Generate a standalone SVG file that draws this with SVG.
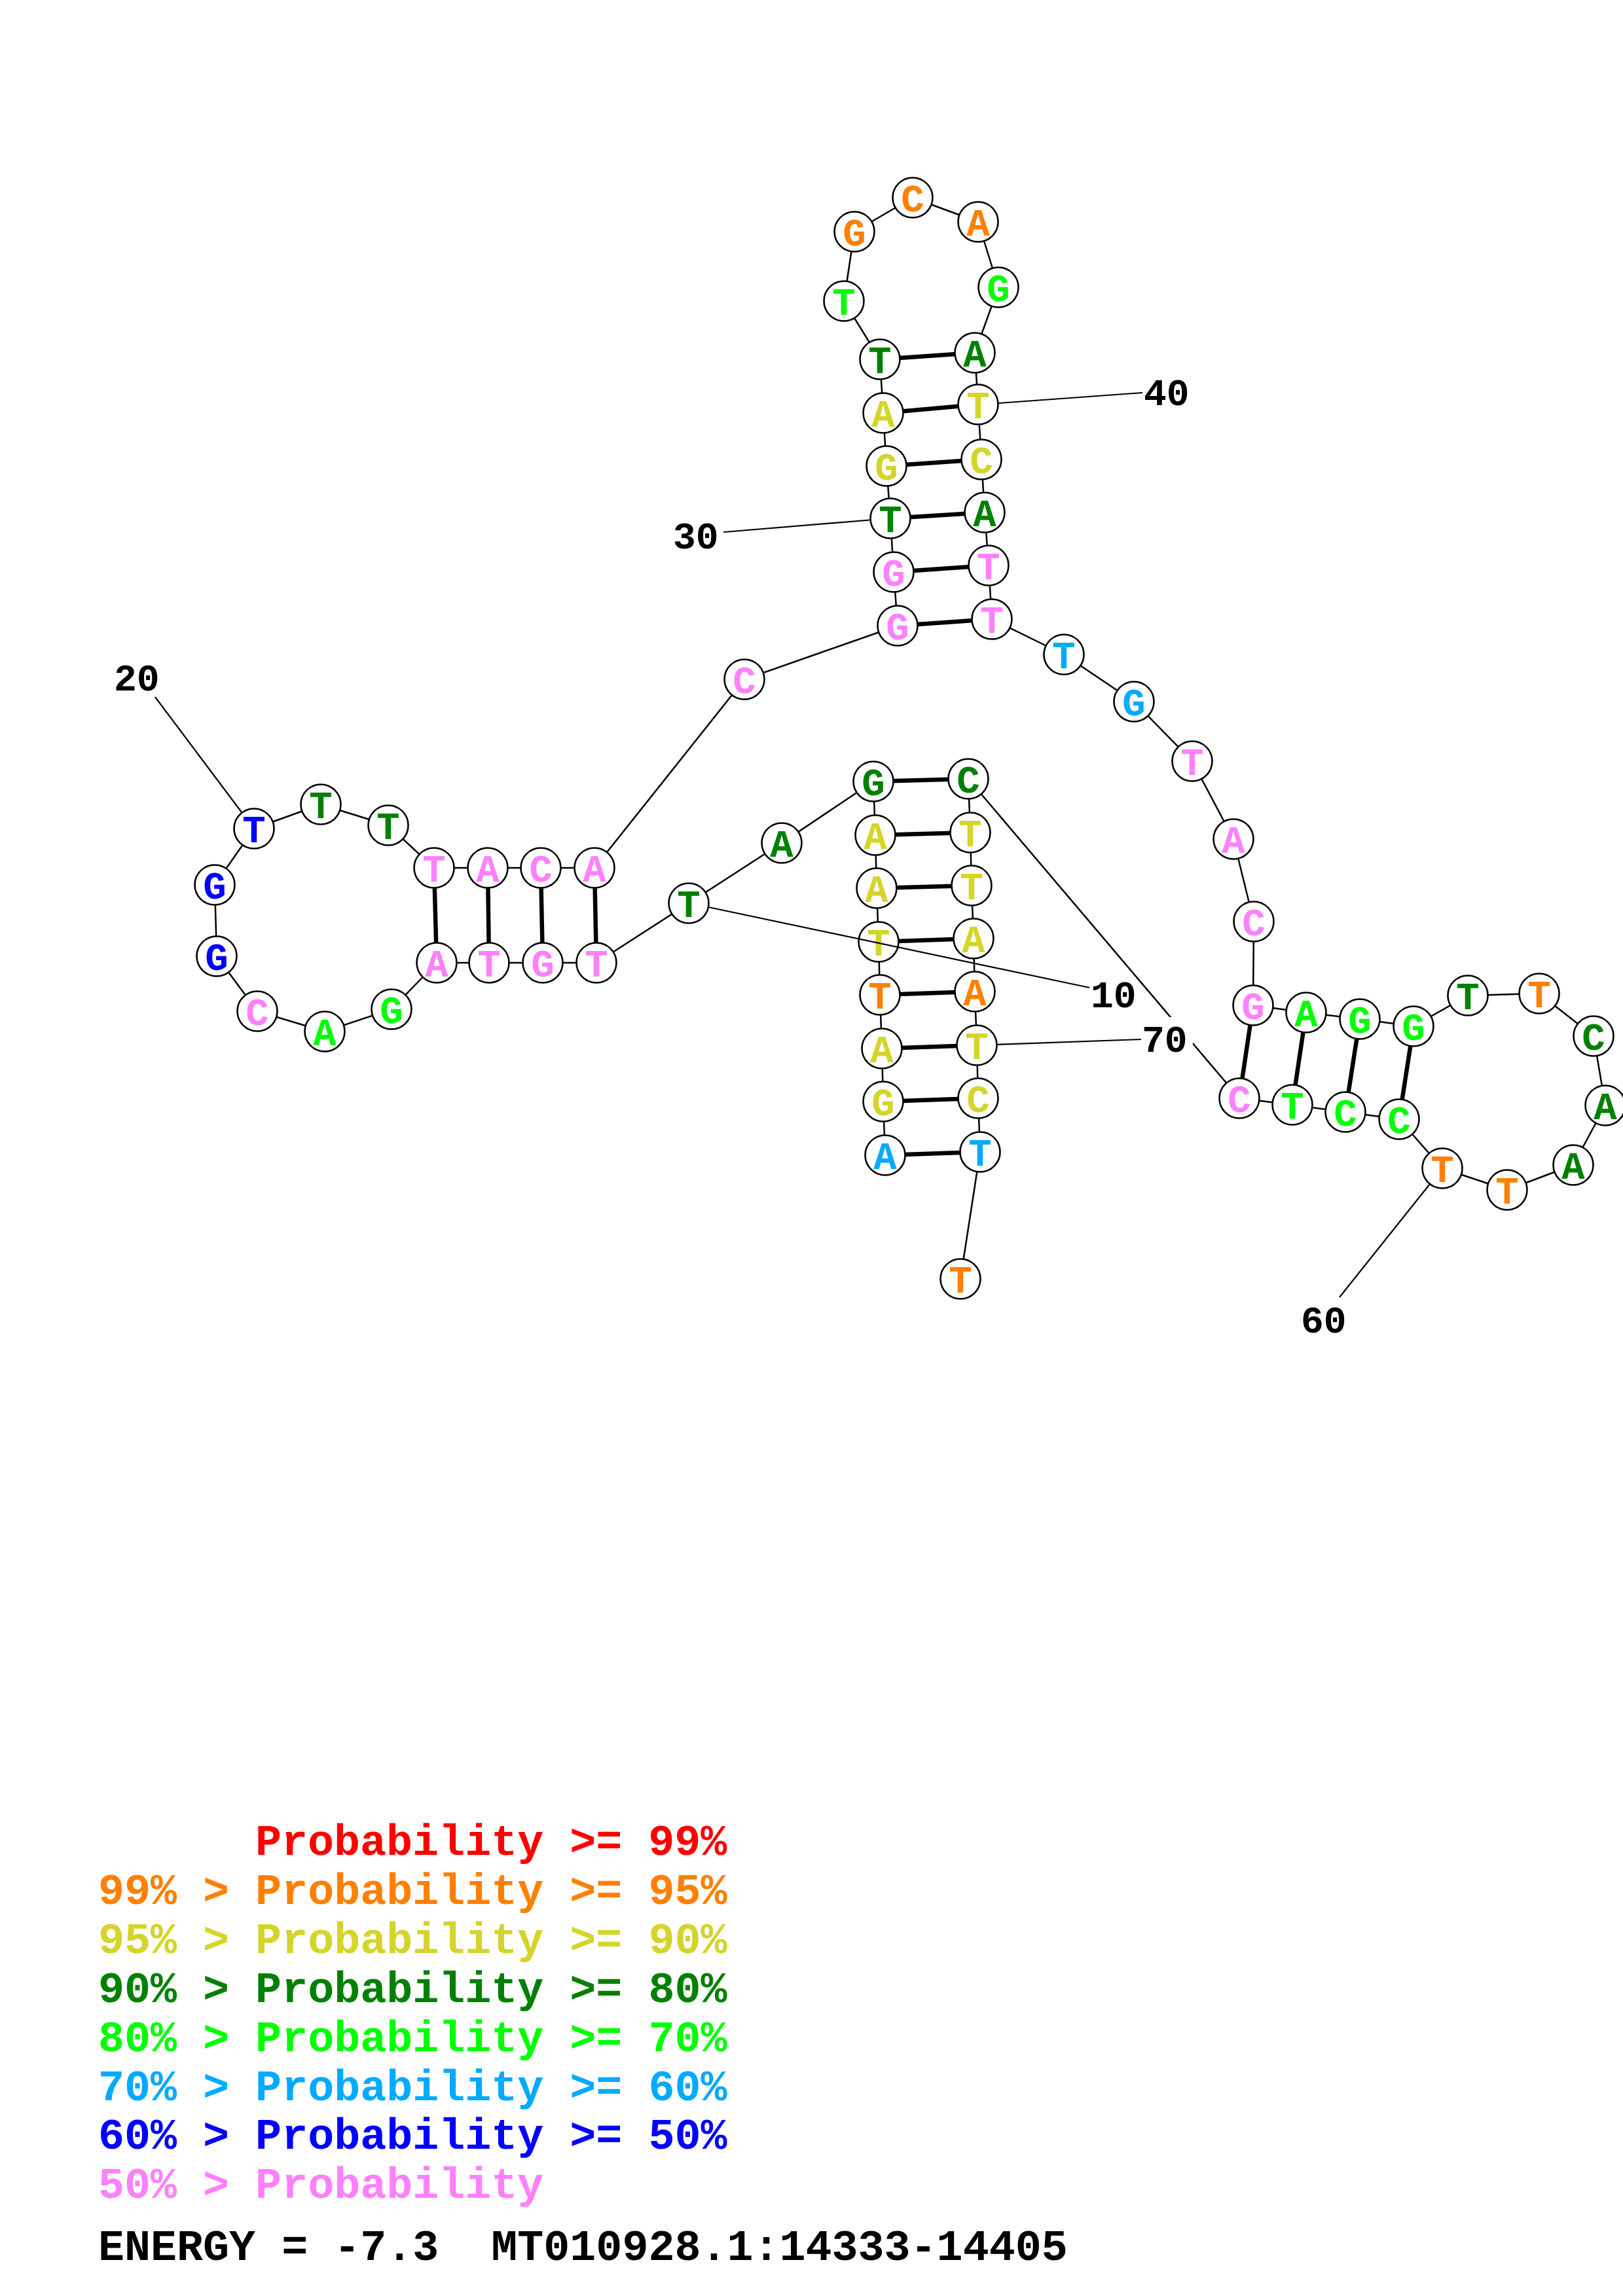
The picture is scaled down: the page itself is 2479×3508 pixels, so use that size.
<svg xmlns="http://www.w3.org/2000/svg" width="2479" height="3508" viewBox="0 0 2479 3508">
<style>
.bb{fill:none;stroke:#000;stroke-width:2.5;stroke-linejoin:round}
.bp{stroke:#000;stroke-width:6.5}
.tk{stroke:#000;stroke-width:2.2}
.nd circle{fill:#fff;stroke:#000;stroke-width:2.6}
.nd text{font-family:"Liberation Mono",monospace;font-weight:bold;font-size:59px;text-anchor:middle}
.lb{font-family:"Liberation Mono",monospace;font-weight:bold;font-size:58px;fill:#000}
.lg{font-family:"Liberation Mono",monospace;font-weight:bold;font-size:66.7px}
.rd{fill:#FF0000}.or{fill:#FF8000}.ye{fill:#D4D42A}.dg{fill:#008000}.gr{fill:#00FF00}.sb{fill:#00AAFF}.bl{fill:#0000FF}.pk{fill:#FF80FF}
</style>
<rect width="2479" height="3508" fill="#fff"/>
<g id="connectors">
<polyline class="bb" points="1352,1765 1349,1683 1347,1602 1344,1520 1342,1439 1339,1357 1337,1276 1334,1194 1194,1288 1052,1380 911,1471 829,1471 747,1471 667,1471 598,1542 496,1576 393,1545 331,1461 328,1352 388,1266 490,1229 593,1261 663,1326 745,1326 826,1326 908,1326 1137,1038 1371,956 1365,874 1360,792 1354,712 1349,631 1344,549 1289,460 1305,354 1394,302 1494,339 1525,439 1489,539 1494,618 1499,702 1504,783 1510,864 1515,946 1625,1000 1732,1072 1821,1163 1884,1282 1915,1408 1914,1536 1995,1547 2077,1557 2159,1568 2242,1521 2351,1518 2434,1583 2452,1689 2403,1780 2302,1818 2203,1785 2137,1710 2055,1699 1974,1688 1893,1678 1479,1190 1482,1272 1484,1353 1487,1434 1489,1515 1492,1597 1494,1678 1497,1760 1467,1954"/>
<line class="bp" x1="1352" y1="1765" x2="1497" y2="1760"/>
<line class="bp" x1="1349" y1="1683" x2="1494" y2="1678"/>
<line class="bp" x1="1347" y1="1602" x2="1492" y2="1597"/>
<line class="bp" x1="1344" y1="1520" x2="1489" y2="1515"/>
<line class="bp" x1="1342" y1="1439" x2="1487" y2="1434"/>
<line class="bp" x1="1339" y1="1357" x2="1484" y2="1353"/>
<line class="bp" x1="1337" y1="1276" x2="1482" y2="1272"/>
<line class="bp" x1="1334" y1="1194" x2="1479" y2="1190"/>
<line class="bp" x1="911" y1="1471" x2="908" y2="1326"/>
<line class="bp" x1="829" y1="1471" x2="826" y2="1326"/>
<line class="bp" x1="747" y1="1471" x2="745" y2="1326"/>
<line class="bp" x1="667" y1="1471" x2="663" y2="1326"/>
<line class="bp" x1="1371" y1="956" x2="1515" y2="946"/>
<line class="bp" x1="1365" y1="874" x2="1510" y2="864"/>
<line class="bp" x1="1360" y1="792" x2="1504" y2="783"/>
<line class="bp" x1="1354" y1="712" x2="1499" y2="702"/>
<line class="bp" x1="1349" y1="631" x2="1494" y2="618"/>
<line class="bp" x1="1344" y1="549" x2="1489" y2="539"/>
<line class="bp" x1="1914" y1="1536" x2="1893" y2="1678"/>
<line class="bp" x1="1995" y1="1547" x2="1974" y2="1688"/>
<line class="bp" x1="2077" y1="1557" x2="2055" y2="1699"/>
<line class="bp" x1="2159" y1="1568" x2="2137" y2="1710"/>
</g>
<g id="n1" class="nd"><circle cx="1352" cy="1765" r="30.5"/><text x="1352" y="1786" class="sb">A</text></g>
<g id="n2" class="nd"><circle cx="1349" cy="1683" r="30.5"/><text x="1349" y="1704" class="ye">G</text></g>
<g id="n3" class="nd"><circle cx="1347" cy="1602" r="30.5"/><text x="1347" y="1623" class="ye">A</text></g>
<g id="n4" class="nd"><circle cx="1344" cy="1520" r="30.5"/><text x="1344" y="1541" class="or">T</text></g>
<g id="n5" class="nd"><circle cx="1342" cy="1439" r="30.5"/><text x="1342" y="1460" class="ye">T</text></g>
<g id="n6" class="nd"><circle cx="1339" cy="1357" r="30.5"/><text x="1339" y="1378" class="ye">A</text></g>
<g id="n7" class="nd"><circle cx="1337" cy="1276" r="30.5"/><text x="1337" y="1297" class="ye">A</text></g>
<g id="n8" class="nd"><circle cx="1334" cy="1194" r="30.5"/><text x="1334" y="1215" class="dg">G</text></g>
<g id="n9" class="nd"><circle cx="1194" cy="1288" r="30.5"/><text x="1194" y="1309" class="dg">A</text></g>
<g id="n10" class="nd"><circle cx="1052" cy="1380" r="30.5"/><text x="1052" y="1401" class="dg">T</text></g>
<g id="n11" class="nd"><circle cx="911" cy="1471" r="30.5"/><text x="911" y="1492" class="pk">T</text></g>
<g id="n12" class="nd"><circle cx="829" cy="1471" r="30.5"/><text x="829" y="1492" class="pk">G</text></g>
<g id="n13" class="nd"><circle cx="747" cy="1471" r="30.5"/><text x="747" y="1492" class="pk">T</text></g>
<g id="n14" class="nd"><circle cx="667" cy="1471" r="30.5"/><text x="667" y="1492" class="pk">A</text></g>
<g id="n15" class="nd"><circle cx="598" cy="1542" r="30.5"/><text x="598" y="1563" class="gr">G</text></g>
<g id="n16" class="nd"><circle cx="496" cy="1576" r="30.5"/><text x="496" y="1597" class="gr">A</text></g>
<g id="n17" class="nd"><circle cx="393" cy="1545" r="30.5"/><text x="393" y="1566" class="pk">C</text></g>
<g id="n18" class="nd"><circle cx="331" cy="1461" r="30.5"/><text x="331" y="1482" class="bl">G</text></g>
<g id="n19" class="nd"><circle cx="328" cy="1352" r="30.5"/><text x="328" y="1373" class="bl">G</text></g>
<g id="n20" class="nd"><circle cx="388" cy="1266" r="30.5"/><text x="388" y="1287" class="bl">T</text></g>
<g id="n21" class="nd"><circle cx="490" cy="1229" r="30.5"/><text x="490" y="1250" class="dg">T</text></g>
<g id="n22" class="nd"><circle cx="593" cy="1261" r="30.5"/><text x="593" y="1282" class="dg">T</text></g>
<g id="n23" class="nd"><circle cx="663" cy="1326" r="30.5"/><text x="663" y="1347" class="pk">T</text></g>
<g id="n24" class="nd"><circle cx="745" cy="1326" r="30.5"/><text x="745" y="1347" class="pk">A</text></g>
<g id="n25" class="nd"><circle cx="826" cy="1326" r="30.5"/><text x="826" y="1347" class="pk">C</text></g>
<g id="n26" class="nd"><circle cx="908" cy="1326" r="30.5"/><text x="908" y="1347" class="pk">A</text></g>
<g id="n27" class="nd"><circle cx="1137" cy="1038" r="30.5"/><text x="1137" y="1059" class="pk">C</text></g>
<g id="n28" class="nd"><circle cx="1371" cy="956" r="30.5"/><text x="1371" y="977" class="pk">G</text></g>
<g id="n29" class="nd"><circle cx="1365" cy="874" r="30.5"/><text x="1365" y="895" class="pk">G</text></g>
<g id="n30" class="nd"><circle cx="1360" cy="792" r="30.5"/><text x="1360" y="813" class="dg">T</text></g>
<g id="n31" class="nd"><circle cx="1354" cy="712" r="30.5"/><text x="1354" y="733" class="ye">G</text></g>
<g id="n32" class="nd"><circle cx="1349" cy="631" r="30.5"/><text x="1349" y="652" class="ye">A</text></g>
<g id="n33" class="nd"><circle cx="1344" cy="549" r="30.5"/><text x="1344" y="570" class="dg">T</text></g>
<g id="n34" class="nd"><circle cx="1289" cy="460" r="30.5"/><text x="1289" y="481" class="gr">T</text></g>
<g id="n35" class="nd"><circle cx="1305" cy="354" r="30.5"/><text x="1305" y="375" class="or">G</text></g>
<g id="n36" class="nd"><circle cx="1394" cy="302" r="30.5"/><text x="1394" y="323" class="or">C</text></g>
<g id="n37" class="nd"><circle cx="1494" cy="339" r="30.5"/><text x="1494" y="360" class="or">A</text></g>
<g id="n38" class="nd"><circle cx="1525" cy="439" r="30.5"/><text x="1525" y="460" class="gr">G</text></g>
<g id="n39" class="nd"><circle cx="1489" cy="539" r="30.5"/><text x="1489" y="560" class="dg">A</text></g>
<g id="n40" class="nd"><circle cx="1494" cy="618" r="30.5"/><text x="1494" y="639" class="ye">T</text></g>
<g id="n41" class="nd"><circle cx="1499" cy="702" r="30.5"/><text x="1499" y="723" class="ye">C</text></g>
<g id="n42" class="nd"><circle cx="1504" cy="783" r="30.5"/><text x="1504" y="804" class="dg">A</text></g>
<g id="n43" class="nd"><circle cx="1510" cy="864" r="30.5"/><text x="1510" y="885" class="pk">T</text></g>
<g id="n44" class="nd"><circle cx="1515" cy="946" r="30.5"/><text x="1515" y="967" class="pk">T</text></g>
<g id="n45" class="nd"><circle cx="1625" cy="1000" r="30.5"/><text x="1625" y="1021" class="sb">T</text></g>
<g id="n46" class="nd"><circle cx="1732" cy="1072" r="30.5"/><text x="1732" y="1093" class="sb">G</text></g>
<g id="n47" class="nd"><circle cx="1821" cy="1163" r="30.5"/><text x="1821" y="1184" class="pk">T</text></g>
<g id="n48" class="nd"><circle cx="1884" cy="1282" r="30.5"/><text x="1884" y="1303" class="pk">A</text></g>
<g id="n49" class="nd"><circle cx="1915" cy="1408" r="30.5"/><text x="1915" y="1429" class="pk">C</text></g>
<g id="n50" class="nd"><circle cx="1914" cy="1536" r="30.5"/><text x="1914" y="1557" class="pk">G</text></g>
<g id="n51" class="nd"><circle cx="1995" cy="1547" r="30.5"/><text x="1995" y="1568" class="gr">A</text></g>
<g id="n52" class="nd"><circle cx="2077" cy="1557" r="30.5"/><text x="2077" y="1578" class="gr">G</text></g>
<g id="n53" class="nd"><circle cx="2159" cy="1568" r="30.5"/><text x="2159" y="1589" class="gr">G</text></g>
<g id="n54" class="nd"><circle cx="2242" cy="1521" r="30.5"/><text x="2242" y="1542" class="dg">T</text></g>
<g id="n55" class="nd"><circle cx="2351" cy="1518" r="30.5"/><text x="2351" y="1539" class="or">T</text></g>
<g id="n56" class="nd"><circle cx="2434" cy="1583" r="30.5"/><text x="2434" y="1604" class="dg">C</text></g>
<g id="n57" class="nd"><circle cx="2452" cy="1689" r="30.5"/><text x="2452" y="1710" class="dg">A</text></g>
<g id="n58" class="nd"><circle cx="2403" cy="1780" r="30.5"/><text x="2403" y="1801" class="dg">A</text></g>
<g id="n59" class="nd"><circle cx="2302" cy="1818" r="30.5"/><text x="2302" y="1839" class="or">T</text></g>
<g id="n60" class="nd"><circle cx="2203" cy="1785" r="30.5"/><text x="2203" y="1806" class="or">T</text></g>
<g id="n61" class="nd"><circle cx="2137" cy="1710" r="30.5"/><text x="2137" y="1731" class="gr">C</text></g>
<g id="n62" class="nd"><circle cx="2055" cy="1699" r="30.5"/><text x="2055" y="1720" class="gr">C</text></g>
<g id="n63" class="nd"><circle cx="1974" cy="1688" r="30.5"/><text x="1974" y="1709" class="gr">T</text></g>
<g id="n64" class="nd"><circle cx="1893" cy="1678" r="30.5"/><text x="1893" y="1699" class="pk">C</text></g>
<g id="n65" class="nd"><circle cx="1479" cy="1190" r="30.5"/><text x="1479" y="1211" class="dg">C</text></g>
<g id="n66" class="nd"><circle cx="1482" cy="1272" r="30.5"/><text x="1482" y="1293" class="ye">T</text></g>
<g id="n67" class="nd"><circle cx="1484" cy="1353" r="30.5"/><text x="1484" y="1374" class="ye">T</text></g>
<g id="n68" class="nd"><circle cx="1487" cy="1434" r="30.5"/><text x="1487" y="1455" class="ye">A</text></g>
<g id="n69" class="nd"><circle cx="1489" cy="1515" r="30.5"/><text x="1489" y="1536" class="or">A</text></g>
<g id="n70" class="nd"><circle cx="1492" cy="1597" r="30.5"/><text x="1492" y="1618" class="ye">T</text></g>
<g id="n71" class="nd"><circle cx="1494" cy="1678" r="30.5"/><text x="1494" y="1699" class="ye">C</text></g>
<g id="n72" class="nd"><circle cx="1497" cy="1760" r="30.5"/><text x="1497" y="1781" class="sb">T</text></g>
<g id="n73" class="nd"><circle cx="1467" cy="1954" r="30.5"/><text x="1467" y="1975" class="or">T</text></g>
<g id="label-ticks">
<line class="tk" x1="1082" y1="1386" x2="1664" y2="1509"/>
<line class="tk" x1="369" y1="1241" x2="237" y2="1065"/>
<line class="tk" x1="1329" y1="794.5" x2="1105" y2="813"/>
<line class="tk" x1="1525" y1="616" x2="1745" y2="600"/>
<line class="tk" x1="2184" y1="1809" x2="2046" y2="1982"/>
<line class="tk" x1="1523" y1="1596" x2="1743" y2="1588"/>
</g>
<g id="labels">
<text class="lb" x="1666" y="1539">10</text>
<text class="lb" x="174" y="1055">20</text>
<text class="lb" x="1028" y="838">30</text>
<text class="lb" x="1747" y="619">40</text>
<text class="lb" x="1987" y="2036">60</text>
<rect x="1743" y="1554" width="79" height="64" fill="#fff"/>
<text class="lb" x="1744" y="1607">70</text>
</g>
<g id="legend">
<text class="lg rd" x="390" y="2834">Probability &gt;= 99%</text>
<text class="lg or" x="150" y="2909">99% &gt; Probability &gt;= 95%</text>
<text class="lg ye" x="150" y="2984">95% &gt; Probability &gt;= 90%</text>
<text class="lg dg" x="150" y="3059">90% &gt; Probability &gt;= 80%</text>
<text class="lg gr" x="150" y="3134">80% &gt; Probability &gt;= 70%</text>
<text class="lg sb" x="150" y="3209">70% &gt; Probability &gt;= 60%</text>
<text class="lg bl" x="150" y="3283">60% &gt; Probability &gt;= 50%</text>
<text class="lg pk" x="150" y="3358">50% &gt; Probability</text>
<text class="lg" x="150" y="3453" fill="#000" xml:space="preserve">ENERGY = -7.3  MT010928.1:14333-14405</text>
</g>
</svg>
